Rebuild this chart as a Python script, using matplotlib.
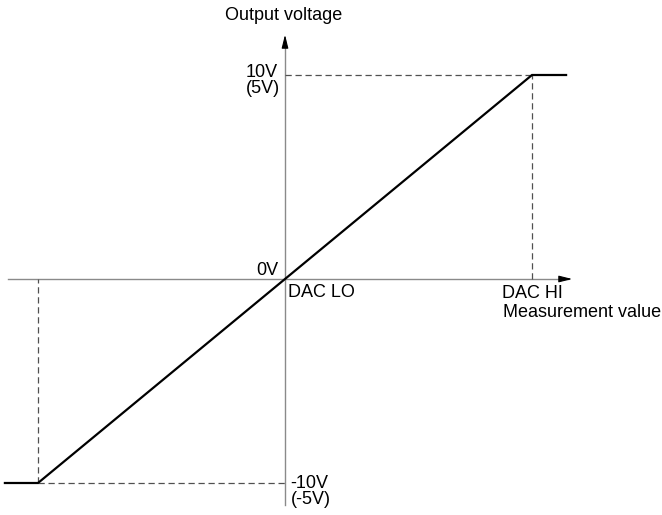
import matplotlib
matplotlib.use('Agg')
import matplotlib.pyplot as plt

# transfer curve: measurement value (DAC LO = 0, DAC HI = 1) -> output voltage
meas = [-1.134, -1.0, 0.0, 1.0, 1.138]
volts = [-10, -10, 0, 10, 10]

dac_lo, dac_hi = 0.0, 1.0
v_lo, v_hi = -10, 10

plt.rcParams['font.family'] = ['Liberation Sans', 'DejaVu Sans']

fig = plt.figure(figsize=(6.62, 5.15), dpi=100)
ax = fig.add_axes([0, 0, 1, 1])

# pixel layout of the reference: origin at (285, 279), 247 px per unit x, 20.4 px per volt
X0, Y0, SX, SY = 285, 279, 247, 20.4
W, H = 662, 515
ax.set_xlim(-X0 / SX, (W - X0) / SX)
ax.set_ylim(-(H - Y0) / SY, Y0 / SY)
ax.axis('off')


def px(x, y):
    return (x - X0) / SX, (Y0 - y) / SY


axis_col = '#8a8a8a'
dash_col = '#505050'

# axes with arrowheads
hx0, _ = px(8, 0)
hx1, _ = px(575, 0)
_, vy0 = px(0, 505)
_, vy1 = px(0, 32)
ax.plot([hx0, hx1 - 0.03], [0, 0], color=axis_col, lw=1.0)
ax.plot([0, 0], [vy0, vy1 - 0.4], color=axis_col, lw=1.0)
ax.annotate('', xy=(hx1, 0), xytext=(hx1 - 0.06, 0),
            arrowprops=dict(arrowstyle='-|>,head_length=0.8,head_width=0.2',
                            color='black', lw=0.8))
ax.annotate('', xy=(0, vy1), xytext=(0, vy1 - 0.7),
            arrowprops=dict(arrowstyle='-|>,head_length=0.8,head_width=0.2',
                            color='black', lw=0.8))

# dashed guide lines
ax.plot([0, dac_hi], [v_hi, v_hi], color=dash_col, lw=0.9, dashes=(5, 3))
ax.plot([dac_hi, dac_hi], [0, v_hi], color=dash_col, lw=0.9, dashes=(5, 3))
ax.plot([meas[1], 0], [v_lo, v_lo], color=dash_col, lw=0.9, dashes=(5, 3))
ax.plot([meas[1], meas[1]], [v_lo, 0], color=dash_col, lw=0.9, dashes=(5, 3))

# transfer curve
ax.plot(meas, volts, color='black', lw=1.6, solid_joinstyle='miter')

fs = 13
ax.text(*px(284, 20), 'Output voltage', fontsize=fs, ha='center', va='baseline')
ax.text(*px(246, 77), '10V', fontsize=fs, ha='left', va='baseline')
ax.text(*px(246, 93), '(5V)', fontsize=fs, ha='left', va='baseline')
ax.text(*px(278, 275), '0V', fontsize=fs, ha='right', va='baseline')
ax.text(*px(288, 297), 'DAC LO', fontsize=fs, ha='left', va='baseline')
ax.text(*px(502, 298), 'DAC HI', fontsize=fs, ha='left', va='baseline')
ax.text(*px(503, 317), 'Measurement value', fontsize=fs, ha='left', va='baseline')
ax.text(*px(290, 488), '-10V', fontsize=fs, ha='left', va='baseline')
ax.text(*px(291, 504), '(-5V)', fontsize=fs, ha='left', va='baseline')

fig.savefig('out.png', dpi=100)
